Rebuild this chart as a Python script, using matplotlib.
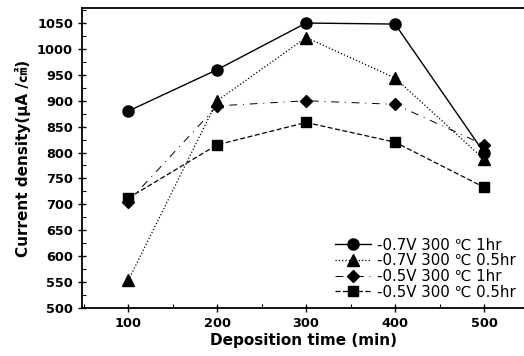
import numpy as np
import matplotlib
matplotlib.use('Agg')
import matplotlib.pyplot as plt
from matplotlib.ticker import MultipleLocator

plt.rcParams['font.family'] = ['DejaVu Sans', 'Noto Sans CJK SC']

time = [100, 200, 300, 400, 500]
v07_1hr = [880, 960, 1050, 1048, 800]
v07_05hr = [553, 900, 1022, 944, 787]
v05_1hr = [705, 890, 900, 893, 815]
v05_05hr = [712, 815, 858, 820, 733]
labels = ['-0.7V 300 ℃ 1hr', '-0.7V 300 ℃ 0.5hr',
          '-0.5V 300 ℃ 1hr', '-0.5V 300 ℃ 0.5hr']

fig = plt.figure(figsize=(5.24, 3.56), dpi=100)
ax = fig.add_axes([0.1565, 0.135, 0.8435, 0.8425])

ax.plot(time, v07_1hr, 'k-', marker='o', ms=8, lw=1.0, label=labels[0])
ax.plot(time, v07_05hr, color='k', ls=':', marker='^', ms=8, lw=0.9, label=labels[1])
ax.plot(time, v05_1hr, color='k', ls=(0, (8, 6, 1, 6)), marker='D', ms=6.5, lw=0.7, label=labels[2])
ax.plot(time, v05_05hr, color='k', ls='--', dashes=(4, 2), marker='s', ms=7, lw=0.9, label=labels[3])

ax.set_xlim(48, 545)
ax.set_ylim(500, 1079)
ax.set_xticks(time)
ax.set_yticks(np.arange(500, 1051, 50))
ax.xaxis.set_minor_locator(MultipleLocator(50))
ax.yaxis.set_minor_locator(MultipleLocator(25))
ax.tick_params(which='major', direction='inout', length=6, width=1, labelsize=9.3)
ax.tick_params(which='minor', direction='in', length=3, width=0.8)
for lab in ax.get_xticklabels() + ax.get_yticklabels():
    lab.set_fontweight('bold')
for s in ax.spines.values():
    s.set_linewidth(1.3)
ax.spines['right'].set_visible(False)

ax.set_xlabel('Deposition time (min)', fontsize=11, fontweight='bold', labelpad=2)
ax.set_ylabel('Current density(μA /㎠)', fontsize=11, fontweight='bold', labelpad=4)

ax.legend(loc='lower right', frameon=False, fontsize=10.8, handlelength=2.4,
          handletextpad=0.4, labelspacing=0.05, borderaxespad=0.15,
          bbox_to_anchor=(1.0, 0.0))

fig.savefig('out.png', dpi=100)
